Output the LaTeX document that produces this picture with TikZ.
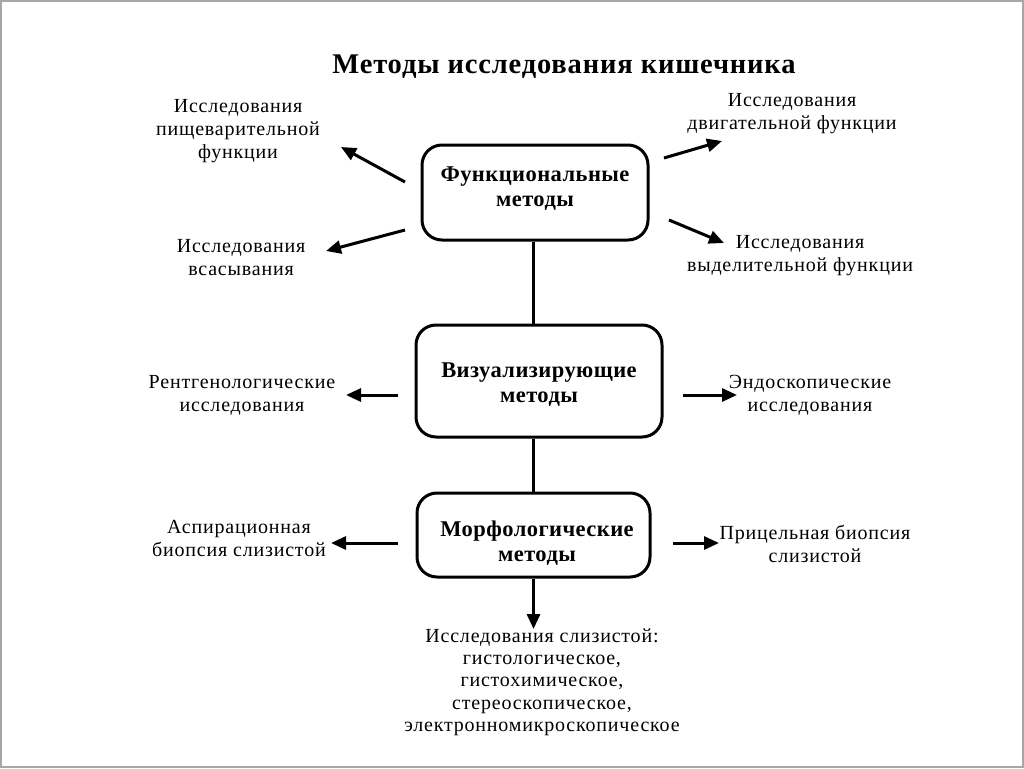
\documentclass[tikz,border=0pt]{standalone}
\usepackage{fontspec}
\setmainfont{Liberation Serif}[LetterSpace=4]
\newfontfamily\titlefont{Liberation Serif}[LetterSpace=3]
\newfontfamily\boxfont{Liberation Serif}[LetterSpace=2]
\usetikzlibrary{arrows.meta}
\begin{document}
\begin{tikzpicture}[x=1pt,y=-1pt,
  box/.style={draw,line width=3pt,rounded corners=20pt,inner sep=0pt},
  boxtext/.style={font=\fontsize{22.5}{25}\selectfont\boxfont\bfseries,align=center},
  lbl/.style={font=\fontsize{20}{23}\selectfont,align=center,inner sep=0pt},
  conn/.style={line width=3pt},
  arr/.style={line width=3pt,-{Triangle[length=15pt,width=13pt]}}]
\useasboundingbox (0,0) rectangle (1024,768);
\draw[gray!70,line width=2pt] (1,1) rectangle (1023,767);
\node[font=\fontsize{28.5}{30}\selectfont\titlefont\bfseries] (title) at (564,67) {Методы исследования кишечника};
% boxes
\node[box,minimum width=226pt,minimum height=95pt] (f) at (535,192.5) {};
\node[boxtext] (ft) at (535,189) {Функциональные\\методы};
\node[box,minimum width=246pt,minimum height=112pt] (v) at (539,381) {};
\node[boxtext] (vt) at (539,385) {Визуализирующие\\методы};
\node[box,minimum width=233pt,minimum height=84pt] (m) at (533.5,535) {};
\node[boxtext] (mt) at (537,543) {Морфологические\\методы};
% labels
\node[lbl] (pd) at (238,131) {Исследования\\пищеварительной\\функции};
\node[lbl] (vs) at (241,258) {Исследования\\всасывания};
\node[lbl] (dv) at (792,114) {Исследования\\двигательной функции};
\node[lbl] (vy) at (800,256) {Исследования\\выделительной функции};
\node[lbl] (rt) at (242,395) {Рентгенологические\\исследования};
\node[lbl] (en) at (810,395) {Эндоскопические\\исследования};
\node[lbl] (as) at (239,538) {Аспирационная\\биопсия слизистой};
\node[lbl] (pr) at (815,544) {Прицельная биопсия\\слизистой};
\node[lbl,font=\fontsize{20}{22.3}\selectfont] (sl) at (542,682) {Исследования слизистой:\\гистологическое,\\гистохимическое,\\стереоскопическое,\\электронномикроскопическое};
% arrow end points
\coordinate (a1s) at (405,182); \coordinate (a1e) at (341,147);
\coordinate (a2s) at (405,230); \coordinate (a2e) at (326,251);
\coordinate (a3s) at (664,158); \coordinate (a3e) at (722,141);
\coordinate (a4s) at (669,220); \coordinate (a4e) at (724,243);
\coordinate (a5s) at (398,395); \coordinate (a5e) at (346,395);
\coordinate (a6s) at (683,395); \coordinate (a6e) at (737,395);
\coordinate (a7s) at (398,543); \coordinate (a7e) at (331,543);
\coordinate (a8s) at (673,543); \coordinate (a8e) at (719,543);
\coordinate (a9e) at (533.5,629);
% connectors
\draw[conn] (f.south -| 533,0) -- (v.north -| 533,0);
\draw[conn] (v.south -| 533,0) -- (m.north -| 533,0);
\draw[arr] (a1s) -- (a1e);
\draw[arr] (a2s) -- (a2e);
\draw[arr] (a3s) -- (a3e);
\draw[arr] (a4s) -- (a4e);
\draw[arr] (a5s) -- (a5e);
\draw[arr] (a6s) -- (a6e);
\draw[arr] (a7s) -- (a7e);
\draw[arr] (a8s) -- (a8e);
\draw[arr] (m.south) -- (a9e);
\end{tikzpicture}
\end{document}
